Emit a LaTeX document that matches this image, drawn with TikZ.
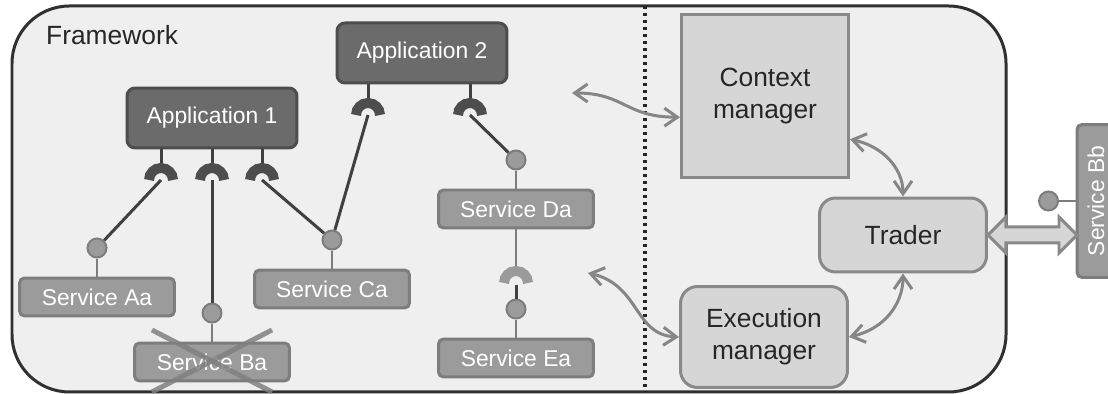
\documentclass[tikz,border=0pt]{standalone}
\usepackage{fontspec}
\setmainfont{Liberation Sans}
\usepackage{tikz}
\usetikzlibrary{arrows.meta,shapes,positioning}

\definecolor{frameback}{HTML}{EFEFEF}
\definecolor{frameline}{HTML}{303030}
\definecolor{appfill}{HTML}{6B6B6B}
\definecolor{appline}{HTML}{4D4D4D}
\definecolor{svcfill}{HTML}{9B9B9B}
\definecolor{svcline}{HTML}{7D7D7D}
\definecolor{sockline}{HTML}{9A9A9A}
\definecolor{mgrfill}{HTML}{D6D6D6}
\definecolor{mgrline}{HTML}{898989}
\definecolor{wirecol}{HTML}{404040}
\definecolor{flowcol}{HTML}{868686}

\tikzstyle{app}=[
	rectangle,
	rounded corners=0.16cm,
	draw=appline,
	fill=appfill,
	line width=0.06cm,
	text=white,
	font=\fontsize{13}{15}\selectfont,
	minimum width=3.4cm,
	minimum height=1.2cm
]
\tikzstyle{service}=[
	rectangle,
	rounded corners=0.1cm,
	draw=svcline,
	fill=svcfill,
	line width=0.06cm,
	text=white,
	font=\fontsize{13}{15}\selectfont,
	inner sep=0pt,
	minimum width=3.1cm,
	minimum height=0.76cm
]
\tikzstyle{manager}=[
	rectangle,
	draw=mgrline,
	fill=mgrfill,
	line width=0.06cm,
	text=black!85,
	font=\fontsize{15}{18}\selectfont,
	align=center,
	minimum width=3.34cm
]
\tikzstyle{ball}=[
	circle,
	node distance=3.6mm,
	inner sep=0pt,
	minimum size=0.38cm,
	draw=svcline,
	fill=svcfill,
	line width=0.04cm
]
\tikzstyle{wire}=[
	-,
	draw=wirecol,
	line width=0.06cm
]
\tikzstyle{stem}=[
	-,
	draw=svcline,
	line width=0.05cm
]
\tikzstyle{appsock}=[
	draw=appline,
	line width=0.2cm
]
\tikzstyle{svcsock}=[
	draw=sockline,
	line width=0.2cm
]
\tikzstyle{flow}=[
	<->,
	>={Straight Barb[length=0.26cm,width=0.36cm]},
	draw=flowcol,
	line width=0.06cm
]
\tikzstyle{cross}=[
	-,
	draw=black!50,
	opacity=0.85,
	line width=0.1cm
]

\begin{document}
\begin{tikzpicture}[x=0.02cm, y=-0.02cm]
\useasboundingbox[fill=white] (0,0) rectangle (1108,394);

% framework area and its split line
\draw[fill=frameback, draw=frameline, line width=0.06cm, rounded corners=1.15cm] (12,6) rectangle (1006,392);
\node[anchor=base west, font=\fontsize{15}{18}\selectfont, text=black!85] (fw) at (40,45) {Framework};
\draw[draw=black!85, line width=0.07cm, dash pattern=on 0.07cm off 0.07cm] (645,6) -- (645,392);

% applications
\node[app] (app1) at (212,118) {Application 1};
\node[app] (app2) at (422,53) {Application 2};

% services
\node[service] (sa) at (97,297) {Service Aa};
\node[service] (sb) at (212,362) {Service Ba};
\node[service] (sc) at (332,289) {Service Ca};
\node[service] (sd) at (516,209) {Service Da};
\node[service] (se) at (516,358) {Service Ea};
\node[service, rotate=90, minimum width=3.06cm, minimum height=0.76cm] (sbb) at (1096,201) {Service Bb};

% managers
\node[manager, minimum height=3.28cm] (ctx) at (765,96) {Context\\manager};
\node[manager, rounded corners=0.32cm, minimum height=1.48cm] (trader) at (903,235) {Trader};
\node[manager, rounded corners=0.34cm, minimum height=2.02cm] (exec) at (764,337) {Execution\\manager};

% provided interfaces
\node[ball, above=of sa] (pa) {};
\node[ball, above=of sb] (pb) {};
\node[ball, above=of sc] (pc) {};
\node[ball, above=of sd] (pd) {};
\node[ball, above=of se] (pe) {};
\node[ball, left=0.33cm of sbb.north] (pbb) {};

% required interfaces
\coordinate (r1) at (161,180);
\coordinate (r2) at (212,180);
\coordinate (r3) at (262,180);
\coordinate (r4) at (368,115);
\coordinate (r5) at (470,115);
\coordinate (rd) at (516,283);

\foreach \q in {r1,r2,r3} \draw[wire] (\q |- app1.south) -- ([yshift=0.28cm]\q);
\foreach \q in {r4,r5} \draw[wire] (\q |- app2.south) -- ([yshift=0.28cm]\q);
\draw[stem] (sd.south) -- ([yshift=0.3cm]rd);

\foreach \q in {r1,r2,r3,r4,r5} {
	\draw[appsock] (\q) ++(-12,0) arc (180:360:12);
}
\draw[svcsock] (rd) ++(-12,0) arc (180:360:12);

% bindings
\draw[wire] (r1) -- (pa);
\draw[wire] (r2) -- (pb);
\draw[wire] (r3) -- (pc);
\draw[wire] (r4) -- (pc);
\draw[wire] (r5) -- (pd);
\draw[wire] ([yshift=-0.04cm]rd) -- (pe);

\draw[stem] (pa) -- (sa);
\draw[stem] (pb) -- (sb);
\draw[stem] (pc) -- (sc);
\draw[stem] (pd) -- (sd);
\draw[stem] (pe) -- (se);
\draw[stem] (pbb) -- (sbb);

% control flow
\coordinate (ctxin) at (572,93);
\coordinate (execin) at (588,273);
\draw[flow] (ctxin) .. controls +(53,0) and +(-55,0) .. (ctx.194);
\draw[flow] (execin) .. controls +(52,12) and +(-45,-2) .. (exec.west);
\draw[flow] (ctx.-27) .. controls +(33,7) and +(0,-28) .. (trader.north);
\draw[flow] (exec.east) .. controls +(35,-8) and +(0,31) .. (trader.south);

% trader link to the outside
\draw[fill=mgrfill, draw=mgrline, line width=0.06cm] (trader.east) -- ++(18,-18) -- ++(0,10) -- ++(53,0) -- ++(0,-10) -- ++(18,18) -- ++(-18,18) -- ++(0,-10) -- ++(-53,0) -- ++(0,10) -- cycle;

% removed service
\draw[cross] ([shift={(-60,-32)}]sb.center) -- ([shift={(60,30)}]sb.center);
\draw[cross] ([shift={(60,-32)}]sb.center) -- ([shift={(-60,30)}]sb.center);
\end{tikzpicture}
\end{document}
